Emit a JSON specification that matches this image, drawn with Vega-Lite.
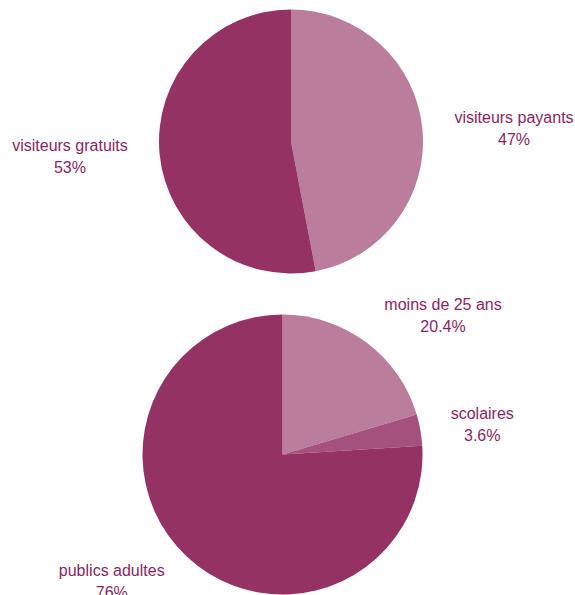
{
  "$schema": "https://vega.github.io/schema/vega-lite/v6.json",
  "padding": 0,
  "spacing": 0,
  "bounds": "flush",
  "resolve": {"scale": {"color": "independent", "theta": "independent"}},
  "config": {
    "view": {"stroke": null},
    "text": {"font": "Liberation Sans", "fontSize": 16, "color": "#8a1f62", "align": "center", "baseline": "middle", "lineBreak": "\n", "lineHeight": 22}
  },
  "vconcat": [
    {
      "width": 582,
      "height": 283,
      "data": {"values": [
        {"i": 1, "cat": "visiteurs payants", "pct": 47},
        {"i": 2, "cat": "visiteurs gratuits", "pct": 53}
      ]},
      "transform": [{"calculate": "datum.cat + '\\n' + datum.pct + '%'", "as": "label"}],
      "encoding": {
        "theta": {"field": "pct", "type": "quantitative", "stack": true},
        "order": {"field": "i", "type": "quantitative"}
      },
      "layer": [
        {
          "mark": {"type": "arc", "outerRadius": 132},
          "encoding": {
            "color": {"field": "cat", "type": "nominal", "legend": null,
              "scale": {"domain": ["visiteurs payants", "visiteurs gratuits"], "range": ["#ba7d9b", "#943263"]}}
          }
        },
        {
          "mark": {"type": "text", "radius": 222, "dx": 2, "dy": -3},
          "encoding": {
            "detail": {"field": "cat", "type": "nominal"},
            "text": {"condition": {"test": "datum.i == 1", "field": "label"}, "value": ""}
          }
        },
        {
          "mark": {"type": "text", "radius": 222, "dx": 0, "dy": -16},
          "encoding": {
            "detail": {"field": "cat", "type": "nominal"},
            "text": {"condition": {"test": "datum.i == 2", "field": "label"}, "value": ""}
          }
        }
      ]
    },
    {
      "width": 565,
      "height": 343,
      "data": {"values": [
        {"i": 1, "cat": "moins de 25 ans", "pct": 20.4},
        {"i": 2, "cat": "scolaires", "pct": 3.6},
        {"i": 3, "cat": "publics adultes", "pct": 76}
      ]},
      "transform": [{"calculate": "datum.cat + '\\n' + datum.pct + '%'", "as": "label"}],
      "encoding": {
        "theta": {"field": "pct", "type": "quantitative", "stack": true},
        "order": {"field": "i", "type": "quantitative"}
      },
      "layer": [
        {
          "mark": {"type": "arc", "outerRadius": 140},
          "encoding": {
            "color": {"field": "cat", "type": "nominal", "legend": null,
              "scale": {"domain": ["moins de 25 ans", "scolaires", "publics adultes"], "range": ["#ba7d9b", "#a4527d", "#943263"]}}
          }
        },
        {
          "mark": {"type": "text", "radius": 210, "dx": 35, "dy": 19},
          "encoding": {
            "detail": {"field": "cat", "type": "nominal"},
            "text": {"condition": {"test": "datum.i == 1", "field": "label"}, "value": ""}
          }
        },
        {
          "mark": {"type": "text", "radius": 210, "dx": -7, "dy": -4},
          "encoding": {
            "detail": {"field": "cat", "type": "nominal"},
            "text": {"condition": {"test": "datum.i == 2", "field": "label"}, "value": ""}
          }
        },
        {
          "mark": {"type": "text", "radius": 210, "dx": -27, "dy": -37},
          "encoding": {
            "detail": {"field": "cat", "type": "nominal"},
            "text": {"condition": {"test": "datum.i == 3", "field": "label"}, "value": ""}
          }
        }
      ]
    }
  ]
}
